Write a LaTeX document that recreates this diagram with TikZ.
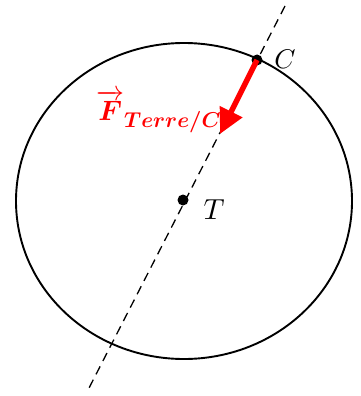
\documentclass[tikz,border=0pt]{standalone}
\usepackage{amsmath,amssymb,bm}
\usepackage{xcolor}
\usetikzlibrary{arrows.meta}
\definecolor{pull}{HTML}{FF0000}
\newcommand{\pointname}[2]{\scalebox{#1}{$#2$}}
\begin{document}
\begin{tikzpicture}[x=1pt,y=-1pt,
  orbit/.style={draw=black,line width=1.9pt},
  axis/.style={draw=black,line width=1.3pt,dash pattern=on 9pt off 6pt},
  body/.style={circle,fill=black,inner sep=0pt,minimum size=11pt},
  pullarrow/.style={-{Triangle[length=25pt,width=24pt]},draw=pull,line width=5.5pt},
  pulllabel/.style={text=pull,inner sep=0pt,anchor=base west}]
  \useasboundingbox (0,0) rectangle (361,396);
  \draw[orbit] (184,201) ellipse [x radius=168,y radius=158];
  \coordinate (up) at (285,6);
  \coordinate (down) at (88,390);
  \draw[axis] (up) -- (down);
  \node[body] (C) at (257,60) {};
  \node[body] (T) at (183,200) {};
  \node (lC) at (285,59) {\pointname{2.7}{C}};
  \node (lT) at (214,210) {\pointname{2.9}{T}};
  \coordinate (tip) at (220,134);
  \draw[pullarrow] (C.center) -- (tip);
  \node[pulllabel] (lF) at (96,120)
    {\scalebox{2.8}{$\overrightarrow{\boldsymbol{F}}$}\raisebox{-8pt}{\scalebox{2.15}{$\boldsymbol{Terre/C}$}}};
\end{tikzpicture}
\end{document}
